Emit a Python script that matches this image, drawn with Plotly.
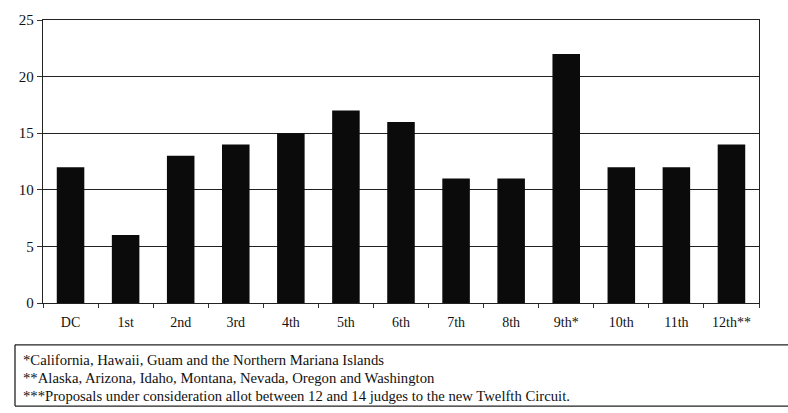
import plotly.graph_objects as go

categories = ["DC", "1st", "2nd", "3rd", "4th", "5th", "6th", "7th", "8th", "9th*", "10th", "11th", "12th**"]
judges = [12, 6, 13, 14, 15, 17, 16, 11, 11, 22, 12, 12, 14]
y_ticks = [0, 5, 10, 15, 20, 25]
footnotes = [
    "*California, Hawaii, Guam and the Northern Mariana Islands",
    "**Alaska, Arizona, Idaho, Montana, Nevada, Oregon and Washington",
    "***Proposals under consideration allot between 12 and 14 judges to the new Twelfth Circuit.",
]

W, H = 788, 413
PL, PT, PR, PB = 43, 12, 759, 303  # plot area in page pixels
PW, PH = PR - PL, PB - PT
L, T = PL, PT
R, B = W - L - PW, H - T - PH

def px(x):
    return (x - PL) / PW

def py(y):
    return (PB - y) / PH

FONT = "Liberation Serif"

fig = go.Figure(go.Bar(x=categories, y=judges, marker=dict(color="#0b0b0b", line=dict(width=0)), width=0.5))

fig.update_layout(
    width=W, height=H,
    margin=dict(l=L, r=R, t=T, b=B),
    paper_bgcolor="white", plot_bgcolor="white",
    showlegend=False,
    font=dict(family=FONT, color="#111"),
    xaxis=dict(
        type="category", showgrid=False, showline=True, linecolor="#222", linewidth=1.3,
        mirror=True, ticks="outside", tickson="boundaries", ticklen=4, tickcolor="#333",
        ticklabelstandoff=6,
        tickfont=dict(size=14, family=FONT, color="#111"),
    ),
    yaxis=dict(
        range=[0, 25], tickvals=y_ticks, showgrid=True, gridcolor="#222", gridwidth=1,
        showline=True, linecolor="#222", linewidth=1.3, mirror=True,
        ticks="outside", ticklen=5, tickcolor="#333", zeroline=False,
        tickfont=dict(size=15, family=FONT, color="#111"),
    ),
)

box_l, box_r, box_t, box_b = 15, 800, 346, 409
line_style = dict(color="#222", width=1.3)
fig.add_shape(type="line", xref="paper", yref="paper", x0=px(box_l), x1=px(box_r), y0=py(box_t), y1=py(box_t), line=line_style)
fig.add_shape(type="line", xref="paper", yref="paper", x0=px(box_l), x1=px(box_r), y0=py(box_b), y1=py(box_b), line=line_style)
fig.add_shape(type="line", xref="paper", yref="paper", x0=px(box_l), x1=px(box_l), y0=py(box_t), y1=py(box_b), line=line_style)

for txt, yc in zip(footnotes, [362, 380, 399]):
    fig.add_annotation(text=txt, xref="paper", yref="paper", x=px(21), y=py(yc),
                       xanchor="left", yanchor="middle", showarrow=False,
                       font=dict(size=14.7, family=FONT, color="#111"))

fig.write_html("out.html", config={"displayModeBar": False},
               post_script="document.body.style.margin='0';")
